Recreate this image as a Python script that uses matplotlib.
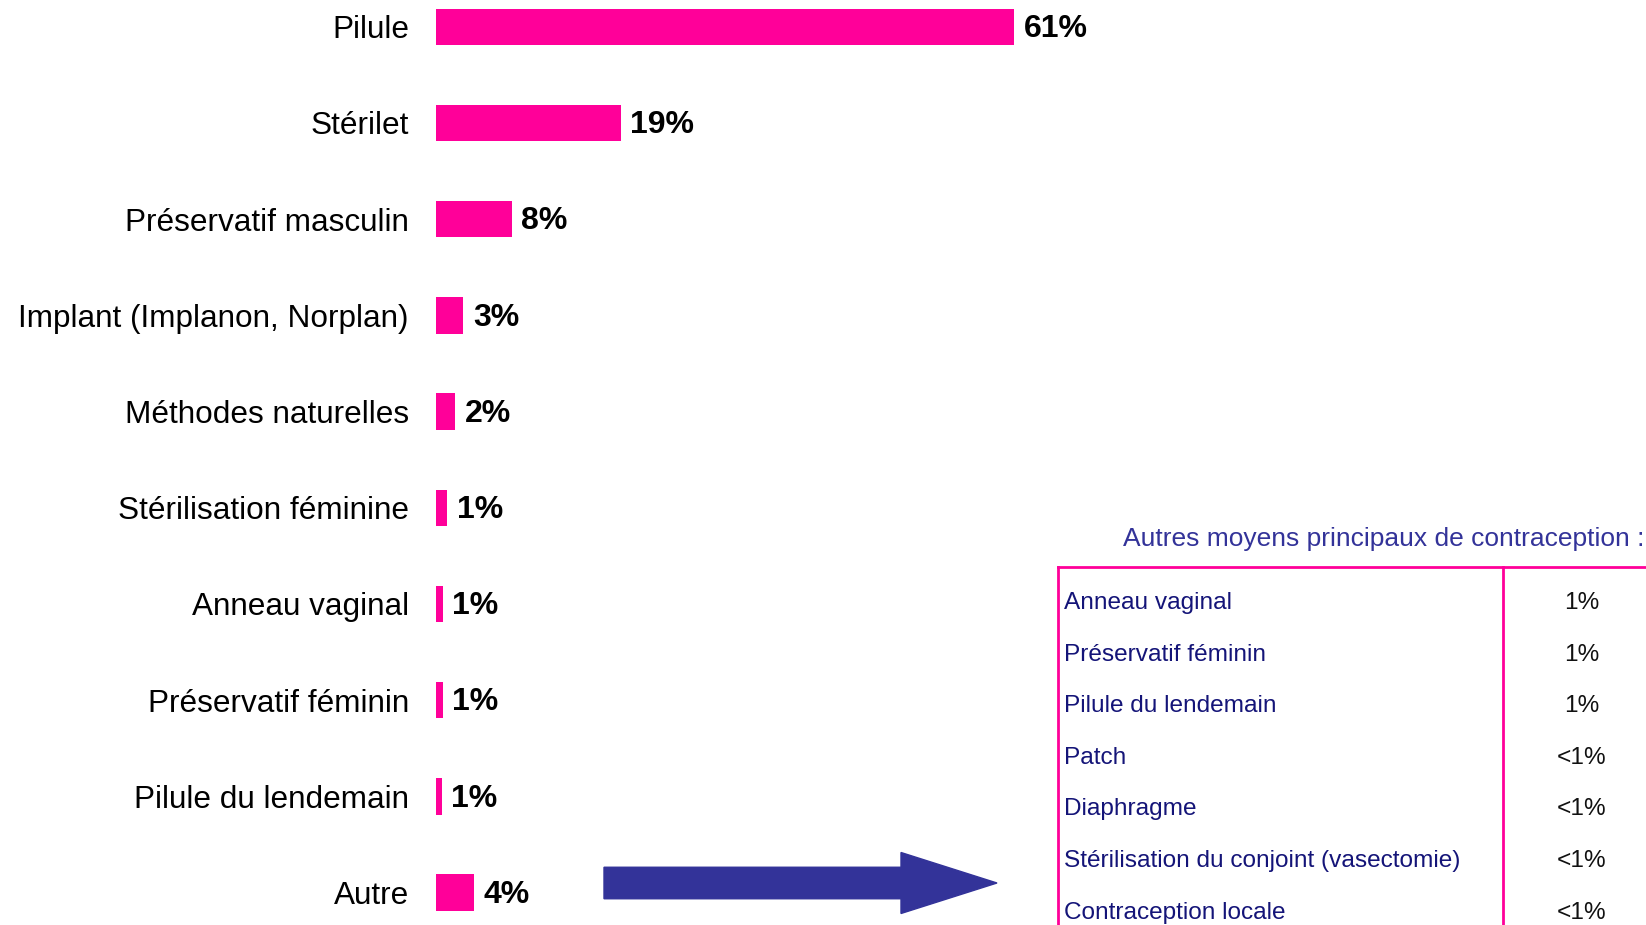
import matplotlib.pyplot as plt
from matplotlib.patches import FancyArrow
from matplotlib.transforms import IdentityTransform

plt.rcParams['font.family'] = ['Liberation Sans', 'DejaVu Sans']

# main bars
methods = ['Pilule', 'Stérilet', 'Préservatif masculin', 'Implant (Implanon, Norplan)',
           'Méthodes naturelles', 'Stérilisation féminine', 'Anneau vaginal',
           'Préservatif féminin', 'Pilule du lendemain', 'Autre']
shares = [61, 19.5, 8, 2.9, 2, 1.2, 0.7, 0.7, 0.6, 4]
share_labels = ['61%', '19%', '8%', '3%', '2%', '1%', '1%', '1%', '1%', '4%']

# side table "Autre"
other_methods = ['Anneau vaginal', 'Préservatif féminin', 'Pilule du lendemain', 'Patch',
                 'Diaphragme', 'Stérilisation du conjoint (vasectomie)', 'Contraception locale']
other_labels = ['1%', '1%', '1%', '<1%', '<1%', '<1%', '<1%']

PINK = '#FF0099'
BLUE = '#333399'
NAVY = '#141478'

W, H = 1646, 925
fig = plt.figure(figsize=(W / 100, H / 100), dpi=100)


def fx(x):
    return x / W


def fy(y):
    return 1 - y / H


# axes: 1% = 9.47 px, rows 96.2 px apart, first row centre at y=26.8
left = 436
ax_w = 988
ax = fig.add_axes([fx(left), 0, ax_w / W, 1])
ax.set_xlim(0, ax_w / 9.47)
row = 96.2
ax.set_ylim((H - 26.8) / row, -26.8 / row)

ypos = list(range(len(methods)))
ax.barh(ypos, shares, height=0.38, color=PINK)
ax.set_yticks(ypos)
ax.set_yticklabels(methods, fontsize=22.7)
ax.tick_params(axis='y', length=0, pad=19.5)
ax.set_xticks([])
for s in ax.spines.values():
    s.set_visible(False)

for y, v, lab in zip(ypos, shares, share_labels):
    ax.annotate(lab, (v, y), xytext=(7, -1.6), textcoords='offset points',
                va='center', ha='left', fontsize=23, fontweight='bold')

# arrow pointing to the table
arrow = FancyArrow(604, H - 883, 393, 0, width=31.5, head_width=61, head_length=96,
                   length_includes_head=True, color=BLUE, transform=IdentityTransform())
fig.add_artist(arrow)

# table
fig.text(fx(1123), fy(539), 'Autres moyens principaux de contraception :',
         fontsize=19, color=BLUE, ha='left', va='center')
fig.add_artist(plt.Line2D([fx(1058), 1], [fy(567), fy(567)], color=PINK, lw=2))
fig.add_artist(plt.Line2D([fx(1058), fx(1058)], [fy(567), 0], color=PINK, lw=2))
fig.add_artist(plt.Line2D([fx(1503), fx(1503)], [fy(567), 0], color=PINK, lw=2))

for i, (name, lab) in enumerate(zip(other_methods, other_labels)):
    yy = 603 + 51.6 * i
    fig.text(fx(1064), fy(yy), name, fontsize=17.6, color=NAVY, ha='left', va='center')
    fig.text(fx(1582), fy(yy), lab, fontsize=17.6, color='#111111', ha='center', va='center')

fig.savefig('out.png', dpi=100)
